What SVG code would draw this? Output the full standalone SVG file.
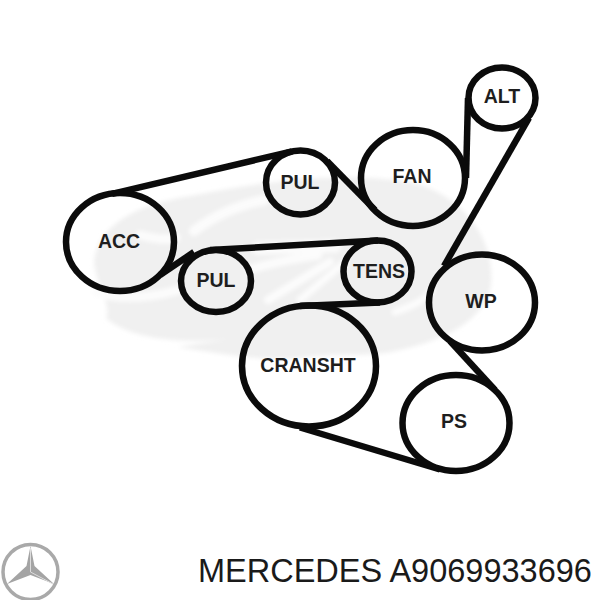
<svg xmlns="http://www.w3.org/2000/svg" width="600" height="600" viewBox="0 0 600 600">
  <style>
    .pulley { fill: none; stroke: #0b0b0b; stroke-width: 6.5; }
    .belt { fill: none; stroke: #0b0b0b; stroke-width: 6.5; stroke-linecap: butt; }
    .label { font-family: "Liberation Sans", Arial, sans-serif; font-weight: 700; font-size: 19.5px; fill: #1e1e1e; text-anchor: middle; }
    .swoosh { fill: #f0f0f0; }
    .gap { fill: none; stroke: #fcfcfc; stroke-linecap: round; }
    .caption { font-family: "Liberation Sans", Arial, sans-serif; font-size: 32.5px; fill: #1a1a1a; }
  </style>
  <defs>
    <filter id="soft" x="-5%" y="-5%" width="110%" height="110%"><feGaussianBlur stdDeviation="2"/></filter>
  </defs>
  <rect width="600" height="600" fill="#ffffff"/>
  <!-- pale brand mark behind the belt routing -->
  <g id="watermark" filter="url(#soft)">
    <path class="swoosh" d="M94 262 C98 225 135 205 190 196 C270 180 340 172 410 182 C465 195 495 240 491 285 C485 320 445 340 400 350 C370 358 340 352 300 358 C260 362 210 352 178 347 L235 338 C190 345 130 340 106 318 C112 305 96 285 94 262 Z"/>
    <path class="gap" stroke-width="10" d="M194 231 C215 215 240 205 264 200"/>
    <path class="gap" stroke-width="9" d="M140 235 C160 240 165 240 176 238"/>
    <path class="gap" stroke-width="13" d="M258 248 L335 246"/>
    <path class="gap" stroke-width="9" d="M250 270 C270 262 300 258 318 255"/>
    <path class="gap" stroke-width="8" d="M268 300 L330 262"/>
    <path class="gap" stroke-width="7" d="M300 300 L345 262"/>
    <path class="gap" stroke-width="9" d="M96 292 C120 300 150 298 178 290"/>
    <path class="gap" stroke-width="7" d="M395 312 C415 305 425 300 432 290"/>
    <path d="M250 405 C300 395 340 375 400 358 L520 340 L540 500 L240 470 Z" fill="#ffffff"/>
  </g>
  <!-- belt runs between pulleys -->
  <g id="connectors">
    <path class="belt" d="M112 193.800 L292 151.300"/>
    <path class="belt" d="M327 161 L375 210"/>
    <path class="belt" d="M468 98 L466 178"/>
    <path class="belt" d="M529 118 L444 266"/>
    <path class="belt" d="M450 341 L495 390"/>
    <path class="belt" d="M300 427.500 L440 469.500"/>
    <path class="belt" d="M300 306 L380 302.500"/>
    <path class="belt" d="M378 240.500 L210 250"/>
    <path class="belt" d="M194 252 L160 275"/>
  </g>
  <g id="acc"><ellipse class="pulley" cx="120" cy="242" rx="54" ry="49"/><text class="label" x="119" y="248">ACC</text></g>
  <g id="pul-upper"><ellipse class="pulley" cx="300.500" cy="182.500" rx="34.500" ry="32"/><text class="label" x="300" y="189">PUL</text></g>
  <g id="pul-lower"><ellipse class="pulley" cx="216" cy="281" rx="35" ry="31"/><text class="label" x="216" y="287">PUL</text></g>
  <g id="fan"><ellipse class="pulley" cx="413" cy="178" rx="52" ry="48"/><text class="label" x="412" y="183">FAN</text></g>
  <g id="alt"><ellipse class="pulley" cx="502" cy="98" rx="33.500" ry="30.500"/><text class="label" x="502" y="103">ALT</text></g>
  <g id="tens"><ellipse class="pulley" cx="377.500" cy="271.500" rx="34" ry="31"/><text class="label" x="379" y="278">TENS</text></g>
  <g id="wp"><ellipse class="pulley" cx="482" cy="302.500" rx="53" ry="48"/><text class="label" x="481" y="308">WP</text></g>
  <g id="cransht"><ellipse class="pulley" cx="309" cy="366" rx="67" ry="60.500"/><text class="label" x="308" y="372">CRANSHT</text></g>
  <g id="ps"><ellipse class="pulley" cx="456" cy="423" rx="53.500" ry="48"/><text class="label" x="454" y="428">PS</text></g>
  <!-- three-pointed star emblem and part number -->
  <g id="emblem">
    <circle cx="30.500" cy="572" r="27.500" fill="none" stroke="#a9a9a9" stroke-width="3.500"/>
    <path d="M30.500 546 L34.500 566 L54 584 L30.500 575 L7 584 L26.500 566 Z" fill="#a4a4a4"/>
    <path d="M30.500 548 L30.500 572 L53 584" fill="none" stroke="#dcdcdc" stroke-width="1"/>
  </g>
  <text class="caption" x="198" y="582">MERCEDES A9069933696</text>
</svg>
